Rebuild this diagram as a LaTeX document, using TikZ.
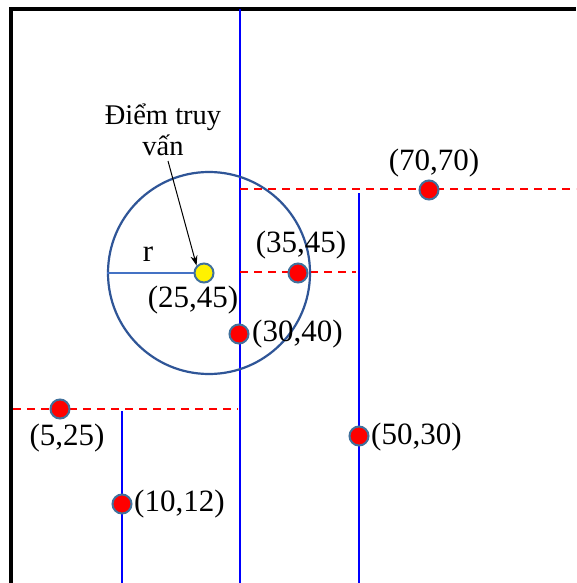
\documentclass[tikz,border=0pt]{standalone}
\usepackage{fontspec}
\setmainfont{Liberation Serif}
\usetikzlibrary{arrows.meta}
\definecolor{ptborder}{HTML}{41719C}
\definecolor{circblue}{HTML}{2F5597}
\definecolor{radblue}{HTML}{4472C4}
\tikzset{
  frame/.style={line width=3.5pt, black},
  split/.style={line width=2.3pt, blue},
  guide/.style={line width=2.3pt, red, dash pattern=on 8pt off 6pt},
  datapt/.style={circle, fill=red, draw=ptborder, line width=2pt, minimum size=19pt, inner sep=0pt},
  querypt/.style={circle, fill=yellow, draw=ptborder, line width=2pt, minimum size=19pt, inner sep=0pt},
  lbl/.style={inner sep=0pt, font=\fontsize{31}{32}\selectfont},
  txt/.style={inner sep=0pt, align=center, font=\fontsize{28.5}{31}\selectfont}
}
\begin{document}
\begin{tikzpicture}[x=1pt, y=-1pt]
\useasboundingbox (0,0) rectangle (576,583);
\fill[white] (0,0) rectangle (576,583);
% frame
\draw[frame] (11,583) -- (11,9) -- (576,9);
% partition line ends
\coordinate (v1t) at (240,9);
\coordinate (v1b) at (240,583);
\coordinate (h1l) at (240,189);
\coordinate (h1r) at (576,189);
\coordinate (v2t) at (359,193);
\coordinate (v2b) at (359,583);
\coordinate (h2l) at (240,272);
\coordinate (h2r) at (356,272);
\coordinate (h3l) at (13,409);
\coordinate (h3r) at (238,409);
\coordinate (v3t) at (122,411);
\coordinate (v3b) at (122,583);
\draw[split] (v1t) -- (v1b);
\draw[split] (v2t) -- (v2b);
\draw[split] (v3t) -- (v3b);
\draw[guide] (h1l) -- (h1r);
\draw[guide] (h2l) -- (h2r);
\draw[guide] (h3l) -- (h3r);
% query circle
\node[circle, draw=circblue, line width=2.2pt, minimum size=202pt, inner sep=0pt] (range) at (209,273) {};
\node[querypt] (q) at (204,273) {};
\draw[radblue, line width=2.2pt] (range.west) -- (q.west);
\node[lbl] (rl) at (148,254) {r};
% data points
\node[datapt] (p7070) at (429,190) {};
\node[datapt] (p3545) at (298,273) {};
\node[datapt] (p3040) at (239,334) {};
\node[datapt] (p0525) at (60,409) {};
\node[datapt] (p1012) at (122,504) {};
\node[datapt] (p5030) at (359,436) {};
% labels
\node[lbl] (l7070) at (434,163) {(70,70)};
\node[lbl] (l3545) at (301,245) {(35,45)};
\node[lbl] (l2545) at (193,300) {(25,45)};
\node[lbl, anchor=west] (l3040) at (252,334) {(30,40)};
\node[lbl] (l0525) at (67,438) {(5,25)};
\node[lbl, anchor=west] (l1012) at (134,504) {(10,12)};
\node[lbl, anchor=west] (l5030) at (371,437) {(50,30)};
% annotation
\node[txt] (ann) at (163,130) {Điểm truy\\vấn};
\coordinate (arrs) at (168,161);
\draw[-{Stealth[length=10pt,width=7pt]}, line width=1pt] (arrs) -- (q.north west);
\end{tikzpicture}
\end{document}
